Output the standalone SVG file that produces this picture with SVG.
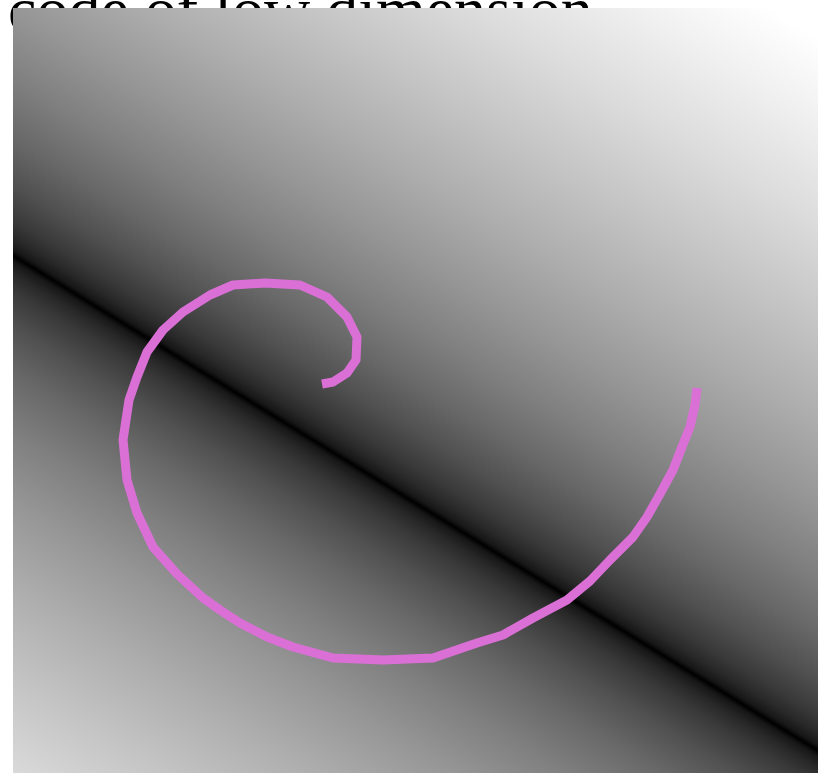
<svg xmlns="http://www.w3.org/2000/svg" width="818" height="773" viewBox="0 0 818 773">
  <defs>
    <linearGradient id="dist" gradientUnits="userSpaceOnUse" x1="347.3" y1="-290.2" x2="-229" y2="646.8">
      <stop offset="0" stop-color="#ffffff"/>
      <stop offset="0.0300" stop-color="#ffffff"/>
      <stop offset="0.0909" stop-color="#f1f1f1"/>
      <stop offset="0.1727" stop-color="#dcdcdc"/>
      <stop offset="0.2545" stop-color="#c4c4c4"/>
      <stop offset="0.3273" stop-color="#adadad"/>
      <stop offset="0.3909" stop-color="#969696"/>
      <stop offset="0.4455" stop-color="#7f7f7f"/>
      <stop offset="0.4909" stop-color="#686868"/>
      <stop offset="0.5273" stop-color="#505050"/>
      <stop offset="0.5545" stop-color="#393939"/>
      <stop offset="0.5682" stop-color="#282828"/>
      <stop offset="0.5773" stop-color="#171717"/>
      <stop offset="0.5818" stop-color="#000000"/>
      <stop offset="0.5864" stop-color="#171717"/>
      <stop offset="0.5955" stop-color="#282828"/>
      <stop offset="0.6091" stop-color="#393939"/>
      <stop offset="0.6364" stop-color="#505050"/>
      <stop offset="0.6727" stop-color="#686868"/>
      <stop offset="0.7182" stop-color="#7f7f7f"/>
      <stop offset="0.7727" stop-color="#969696"/>
      <stop offset="0.8364" stop-color="#adadad"/>
      <stop offset="0.9091" stop-color="#c4c4c4"/>
      <stop offset="0.9909" stop-color="#dcdcdc"/>
      <stop offset="1" stop-color="#dedede"/>
    </linearGradient>
  </defs>
  <style>
    .title { font-family: "Liberation Serif", "Times New Roman", serif; font-size: 64px; fill: #000000; }
    .spiral { fill: none; stroke: #da70d6; stroke-width: 9; stroke-linejoin: round; stroke-linecap: butt; }
  </style>
  <rect x="0" y="0" width="818" height="773" fill="#ffffff"/>
  <text class="title" x="8" y="31">code of low dimension</text>
  <rect id="field" x="13" y="8" width="805" height="765" fill="url(#dist)"/>
  <path id="spiral" class="spiral" d="M322,384 L333,382 L347,373 L356,360 L357,337 L347,317 L327,297 L300,285 L265,283 L233,285 L210,295 L183,312 L163,330 L147,352 L137,377 L129,400 L123,440 L127,480 L137,513 L153,547 L177,574 L203,598 L220,610 L240,623 L267,637 L293,647 L333,658 L383,660 L433,658 L477,643 L503,635 L533,618 L567,600 L590,581 L610,560 L633,537 L647,517 L660,494 L673,470 L682,447 L690,427 L695,405 L697,388"/>
</svg>
